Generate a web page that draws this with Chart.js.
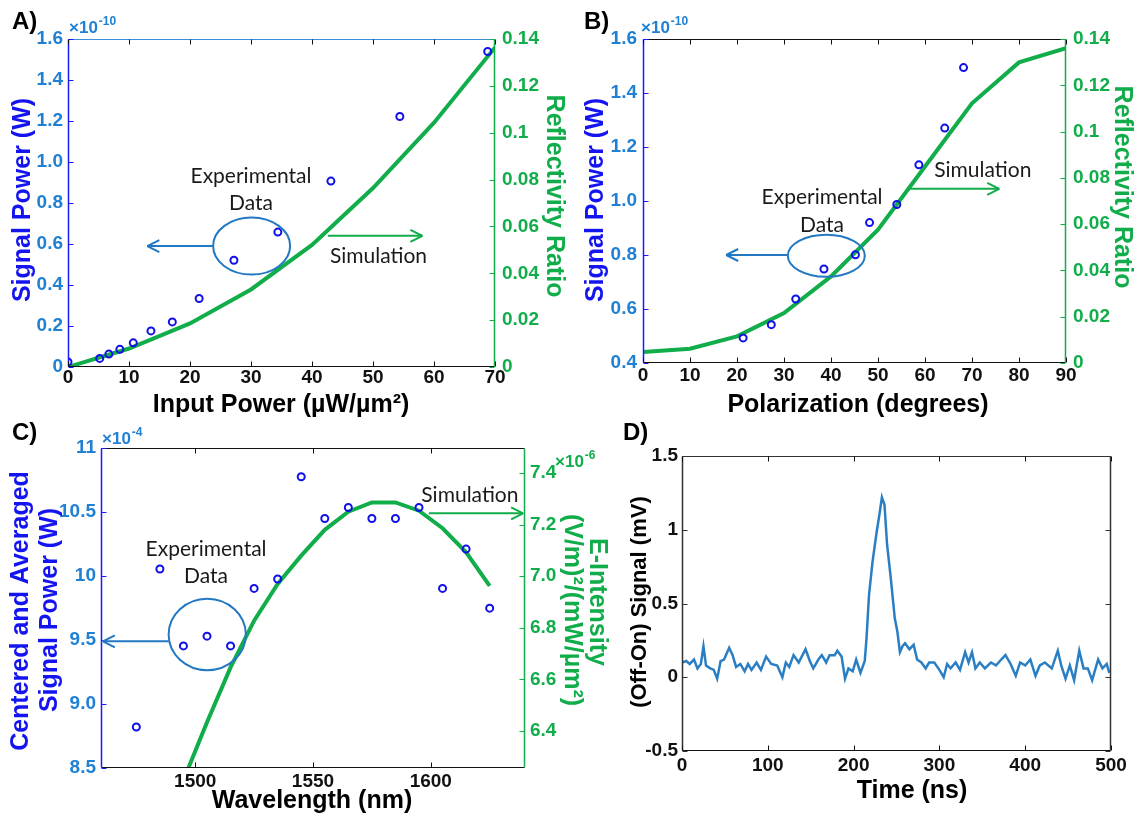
<!DOCTYPE html>
<html>
<head>
<meta charset="utf-8">
<style>
  body { margin: 0; background: #ffffff; width: 1134px; height: 814px; position: relative; overflow: hidden; }
  canvas { position: absolute; }
</style>
<script src="https://cdn.jsdelivr.net/npm/chart.js"></script>
</head>
<body>
<canvas id="chartA" width="567" height="420" style="left:0px;top:0px"></canvas>
<canvas id="chartB" width="567" height="420" style="left:567px;top:0px"></canvas>
<canvas id="chartC" width="620" height="399" style="left:0px;top:415px"></canvas>
<canvas id="chartD" width="522" height="399" style="left:612px;top:415px"></canvas>
<script>
// ---- panel A: input power sweep ----
const aExpPower  = [0, 5.2, 6.7, 8.5, 10.7, 13.6, 17.1, 21.5, 27.2, 34.4, 43.1, 54.4, 68.8];
const aExpSignal = [0.025, 0.042, 0.063, 0.086, 0.118, 0.176, 0.22, 0.334, 0.521, 0.658, 0.907, 1.222, 1.539]; // x1e-10 W
const aSimPower  = [0, 10, 20, 30, 40, 50, 60, 70];
const aSimRefl   = [0, 0.0079, 0.0186, 0.0331, 0.0521, 0.0764, 0.1043, 0.1364];
const aXTicks    = [0, 10, 20, 30, 40, 50, 60, 70];
const aLeftTicks = [0, 0.2, 0.4, 0.6, 0.8, 1.0, 1.2, 1.4, 1.6];
const reflTicks  = [0, 0.02, 0.04, 0.06, 0.08, 0.1, 0.12, 0.14];

// ---- panel B: polarization sweep ----
const bExpAngle  = [21.3, 27.3, 32.5, 38.5, 45.2, 48.2, 54.0, 58.7, 64.2, 68.2];
const bExpSignal = [0.493, 0.542, 0.637, 0.748, 0.801, 0.920, 0.987, 1.134, 1.270, 1.494]; // x1e-10 W
const bSimAngle  = [0, 10, 20, 30, 40, 50, 60, 70, 80, 90];
const bSimRefl   = [0.0048, 0.0062, 0.0115, 0.0216, 0.0374, 0.0576, 0.0849, 0.1122, 0.1299, 0.136];
const bXTicks    = [0, 10, 20, 30, 40, 50, 60, 70, 80, 90];
const bLeftTicks = [0.4, 0.6, 0.8, 1.0, 1.2, 1.4, 1.6];

// ---- panel C: wavelength sweep ----
const cExpWl     = [1475, 1485, 1495, 1505, 1515, 1525, 1535, 1545, 1555, 1565, 1575, 1585, 1595, 1605, 1615, 1625];
const cExpSignal = [8.82, 10.055, 9.454, 9.53, 9.454, 9.903, 9.977, 10.775, 10.449, 10.535, 10.449, 10.449, 10.535, 9.903, 10.21, 9.749]; // x1e-4 W
const cSimWl     = [1495, 1505, 1515, 1525, 1535, 1545, 1555, 1565, 1575, 1585, 1595, 1605, 1615, 1625];
const cSimE      = [6.21, 6.434, 6.647, 6.828, 6.970, 7.080, 7.180, 7.250, 7.286, 7.286, 7.254, 7.186, 7.093, 6.963]; // x1e-6
const cXTicks    = [1500, 1550, 1600];
const cLeftTicks = [8.5, 9.0, 9.5, 10, 10.5, 11];
const cRightTicks = [6.4, 6.6, 6.8, 7.0, 7.2, 7.4];

// ---- panel D: time trace ----
const dTime = [0, 5, 9, 14, 18, 22, 25, 28, 33, 37, 41, 45, 49, 55, 59, 63, 68, 73, 77, 81,
  87, 92, 98, 104, 111, 117, 121, 125, 130, 136, 144, 149, 153, 159, 163, 168, 172, 178, 181, 186,
  190, 194, 199, 203, 208, 213, 215, 218, 222, 227, 230, 233, 236, 239, 243, 248, 251, 254, 257, 260,
  265, 270, 274, 279, 284, 288, 294, 300, 305, 309, 313, 319, 324, 330, 334, 338, 342, 347, 353, 360,
  366, 372, 377, 383, 389, 394, 400, 406, 412, 417, 423, 431, 438, 442, 447, 452, 457, 463, 468, 473,
  478, 482, 485, 490, 495, 498];
const dSignal = [0.10, 0.11, 0.09, 0.12, 0.06, 0.09, 0.21, 0.08, 0.06, 0.05, -0.01, 0.11, 0.12, 0.20, 0.15, 0.07, 0.09, 0.04, 0.09, 0.05,
  0.10, 0.05, 0.14, 0.09, 0.08, 0.00, 0.10, 0.07, 0.15, 0.10, 0.19, 0.11, 0.06, 0.12, 0.15, 0.10, 0.15, 0.15, 0.18, 0.14,
  -0.01, 0.06, 0.04, 0.12, 0.03, 0.11, 0.26, 0.56, 0.78, 0.99, 1.10, 1.22, 1.17, 0.90, 0.69, 0.40, 0.31, 0.17, 0.21, 0.23,
  0.19, 0.22, 0.12, 0.10, 0.06, 0.10, 0.10, 0.05, 0.00, 0.09, 0.06, 0.10, 0.05, 0.17, 0.10, 0.17, 0.06, 0.10, 0.06, 0.10,
  0.08, 0.12, 0.15, 0.09, 0.01, 0.10, 0.08, 0.12, 0.01, 0.08, 0.10, 0.06, 0.18, 0.08, -0.01, 0.08, -0.02, 0.18, 0.06, 0.06,
  -0.02, 0.06, 0.12, 0.06, 0.09, 0.03];
const dXTicks = [0, 100, 200, 300, 400, 500];
const dYTicks = [-0.5, 0, 0.5, 1, 1.5];

// colours
const BLUE_TICK = '#1f80d4';
const BLUE_TITLE = '#1414f0';
const BLUE_AXIS = '#1a1aff';
const BLUE_MARK = '#1010e8';
const BLUE_NOTE = '#2278c3';
const GREEN = '#10ad4a';
const BLACK = '#111111';
const FONT = 'Liberation Sans, Arial, sans-serif';
const NOTE_FONT = '21px Lato, "Open Sans", sans-serif';
const TITLE_FONT = 'bold 25px ' + FONT;

const pairs = (xs, ys) => xs.map((x, i) => ({ x: x, y: ys[i] }));
const tickFont = { family: FONT, size: 19, weight: 'bold' };

function setTicks(arr) {
  return s => { s.ticks = arr.map(v => ({ value: v })); };
}

// axis boxes get a fixed size so every plot area lands where the figure has it
function xAxis(min, max, ticks, size, pad) {
  return {
    type: 'linear', position: 'bottom', min: min, max: max,
    afterBuildTicks: setTicks(ticks),
    afterFit: s => { s.height = size; s.paddingLeft = 0; s.paddingRight = 0; },
    grid: { display: false, drawTicks: false }, border: { display: false },
    ticks: { color: BLACK, font: tickFont, padding: pad, autoSkip: false, maxRotation: 0, callback: v => String(v) }
  };
}
function yAxis(pos, min, max, ticks, color, fmt, size, pad) {
  return {
    type: 'linear', position: pos, min: min, max: max,
    afterBuildTicks: setTicks(ticks),
    afterFit: s => { s.width = size; s.paddingTop = 0; s.paddingBottom = 0; },
    grid: { display: false, drawTicks: false }, border: { display: false },
    ticks: { color: color, font: tickFont, padding: pad, autoSkip: false, callback: fmt }
  };
}

// small drawing helpers
function seg(ctx, x1, y1, x2, y2, color, w) {
  ctx.strokeStyle = color; ctx.lineWidth = w || 1;
  ctx.beginPath(); ctx.moveTo(x1, y1); ctx.lineTo(x2, y2); ctx.stroke();
}
function label(ctx, s, x, y, font, color, rot, align) {
  ctx.save();
  ctx.translate(x, y);
  if (rot) ctx.rotate(rot);
  ctx.font = font; ctx.fillStyle = color;
  ctx.textAlign = align || 'center'; ctx.textBaseline = 'middle';
  ctx.fillText(s, 0, 0);
  ctx.restore();
}
function sci(ctx, x, y, exp, color) {
  ctx.save();
  ctx.fillStyle = color; ctx.textBaseline = 'middle'; ctx.textAlign = 'left';
  ctx.font = 'bold 17px ' + FONT;
  ctx.fillText('\u00d710', x, y);
  const w = ctx.measureText('\u00d710').width;
  ctx.font = 'bold 12px ' + FONT;
  ctx.fillText(exp, x + w + 1, y - 6);
  ctx.restore();
}
function arrow(ctx, x1, x2, y, color) {
  const d = Math.sign(x2 - x1);
  seg(ctx, x1, y, x2, y, color, 2);
  seg(ctx, x2, y, x2 - d * 12, y - 6, color, 2);
  seg(ctx, x2, y, x2 - d * 12, y + 6, color, 2);
}

// frame, inward ticks, titles and notes for one panel
function panelPlugin(p) {
  return {
    id: 'panel' + p.name,
    afterDraw(chart) {
      const ctx = chart.ctx, a = chart.chartArea;
      const sx = chart.scales.x, yl = chart.scales.y, yr = chart.scales.y2;
      const L = a.left + 0.5, R = a.right - 0.5, T = a.top + 0.5, B = a.bottom - 0.5;
      ctx.save();
      seg(ctx, L, B, R, B, BLACK, 1);
      seg(ctx, L, T, R, T, p.topColor, 1);
      seg(ctx, L, T, L, B, p.leftColor, 1.5);
      seg(ctx, R, T, R, B, p.rightColor, 1.5);
      sx.ticks.forEach(t => {
        const px = Math.round(sx.getPixelForValue(t.value)) + 0.5;
        seg(ctx, px, B, px, B - 5, BLACK, 1);
        seg(ctx, px, T, px, T + 5, BLACK, 1);
      });
      yl.ticks.forEach(t => {
        const py = Math.round(yl.getPixelForValue(t.value)) + 0.5;
        seg(ctx, L, py, L + 5, py, p.leftColor, 1);
        if (!yr) seg(ctx, R, py, R - 5, py, p.rightColor, 1);
      });
      if (yr) yr.ticks.forEach(t => {
        const py = Math.round(yr.getPixelForValue(t.value)) + 0.5;
        seg(ctx, R, py, R - 5, py, p.rightColor, 1);
      });
      // notes placed in data units
      (p.ellipses || []).forEach(e => {
        ctx.strokeStyle = BLUE_NOTE; ctx.lineWidth = 2;
        ctx.beginPath();
        ctx.ellipse(sx.getPixelForValue(e.x), yl.getPixelForValue(e.y), e.rx, e.ry, 0, 0, Math.PI * 2);
        ctx.stroke();
      });
      (p.arrows || []).forEach(r => {
        arrow(ctx, sx.getPixelForValue(r.x1), sx.getPixelForValue(r.x2), yl.getPixelForValue(r.y), r.color);
      });
      (p.notes || []).forEach(n => {
        label(ctx, n.text, sx.getPixelForValue(n.x), yl.getPixelForValue(n.y), NOTE_FONT, '#1a1a1a');
      });
      // titles placed in page pixels
      (p.titles || []).forEach(t => {
        label(ctx, t.text, t.x - p.ox, t.y - p.oy, t.font || TITLE_FONT, t.color, t.rot || 0, t.align);
      });
      (p.sci || []).forEach(s => sci(ctx, s.x - p.ox, s.y - p.oy, s.exp, s.color));
      ctx.restore();
    }
  };
}

const fmtRefl = v => v === 0 ? '0' : String(Number(v.toFixed(2)));
const baseOpts = {
  responsive: false, animation: false, devicePixelRatio: 1,
  plugins: { legend: { display: false }, tooltip: { enabled: false } }
};
const HALF = Math.PI / 2;

// ---------- A ----------
new Chart(document.getElementById('chartA'), {
  type: 'scatter',
  data: { datasets: [
    { data: pairs(aExpPower, aExpSignal), yAxisID: 'y', pointRadius: 3.5, pointBorderWidth: 2,
      pointBorderColor: BLUE_MARK, pointBackgroundColor: 'rgba(0,0,0,0)', showLine: false },
    { data: pairs(aSimPower, aSimRefl), yAxisID: 'y2', showLine: true, borderColor: GREEN,
      borderWidth: 4, pointRadius: 0, tension: 0 }
  ] },
  options: Object.assign({}, baseOpts, {
    layout: { padding: { left: 0, right: 0, top: 39, bottom: 0 } },
    scales: {
      x: xAxis(0, 70, aXTicks, 53, -1),
      y: yAxis('left', 0, 1.6, aLeftTicks, BLUE_TICK, v => v === 0 ? '0' : v.toFixed(1), 68, 5),
      y2: yAxis('right', 0, 0.14, reflTicks, GREEN, fmtRefl, 72, 7)
    }
  }),
  plugins: [panelPlugin({
    name: 'A', ox: 0, oy: 0, topColor: '#3a90dc', leftColor: BLUE_AXIS, rightColor: GREEN,
    ellipses: [{ x: 30.1, y: 0.59, rx: 38.5, ry: 28.5 }],
    arrows: [{ x1: 23.8, x2: 13.0, y: 0.59, color: BLUE_NOTE }, { x1: 42.6, x2: 58.1, y: 0.64, color: GREEN }],
    notes: [{ text: 'Experimental', x: 30.0, y: 0.93 }, { text: 'Data', x: 30.0, y: 0.80 }, { text: 'Simulation', x: 50.9, y: 0.54 }],
    titles: [
      { text: 'A)', x: 12, y: 22, color: '#000', font: 'bold 24px ' + FONT, align: 'left' },
      { text: 'Signal Power (W)', x: 23, y: 200, color: BLUE_TITLE, rot: -HALF },
      { text: 'Reflectivity Ratio', x: 554, y: 196, color: GREEN, rot: HALF },
      { text: 'Input Power (\u00b5W/\u00b5m\u00b2)', x: 281, y: 405, color: '#000' }
    ],
    sci: [{ x: 69, y: 28, exp: '-10', color: BLUE_TICK }]
  })]
});

// ---------- B ----------
new Chart(document.getElementById('chartB'), {
  type: 'scatter',
  data: { datasets: [
    { data: pairs(bExpAngle, bExpSignal), yAxisID: 'y', pointRadius: 3.5, pointBorderWidth: 2,
      pointBorderColor: BLUE_MARK, pointBackgroundColor: 'rgba(0,0,0,0)', showLine: false },
    { data: pairs(bSimAngle, bSimRefl), yAxisID: 'y2', showLine: true, borderColor: GREEN,
      borderWidth: 4, pointRadius: 0, tension: 0 }
  ] },
  options: Object.assign({}, baseOpts, {
    layout: { padding: { left: 0, right: 0, top: 39, bottom: 0 } },
    scales: {
      x: xAxis(0, 90, bXTicks, 57, 1),
      y: yAxis('left', 0.4, 1.6, bLeftTicks, BLUE_TICK, v => v.toFixed(1), 76, 6),
      y2: yAxis('right', 0, 0.14, reflTicks, GREEN, fmtRefl, 68, 7)
    }
  }),
  plugins: [panelPlugin({
    name: 'B', ox: 567, oy: 0, topColor: BLACK, leftColor: BLUE_AXIS, rightColor: GREEN,
    ellipses: [{ x: 39.0, y: 0.797, rx: 38.5, ry: 21 }],
    arrows: [{ x1: 30.8, x2: 17.7, y: 0.80, color: BLUE_NOTE }, { x1: 56.2, x2: 75.8, y: 1.045, color: GREEN }],
    notes: [{ text: 'Experimental', x: 38.1, y: 1.013 }, { text: 'Data', x: 38.1, y: 0.912 }, { text: 'Simulation', x: 72.3, y: 1.115 }],
    titles: [
      { text: 'B)', x: 584, y: 22, color: '#000', font: 'bold 24px ' + FONT, align: 'left' },
      { text: 'Signal Power (W)', x: 596, y: 200, color: BLUE_TITLE, rot: -HALF },
      { text: 'Reflectivity Ratio', x: 1122, y: 187, color: GREEN, rot: HALF },
      { text: 'Polarization (degrees)', x: 858, y: 405, color: '#000' }
    ],
    sci: [{ x: 641, y: 28, exp: '-10', color: BLUE_TICK }]
  })]
});

// ---------- C ----------
new Chart(document.getElementById('chartC'), {
  type: 'scatter',
  data: { datasets: [
    { data: pairs(cExpWl, cExpSignal), yAxisID: 'y', pointRadius: 3.5, pointBorderWidth: 2,
      pointBorderColor: BLUE_MARK, pointBackgroundColor: 'rgba(0,0,0,0)', showLine: false },
    { data: pairs(cSimWl, cSimE), yAxisID: 'y2', showLine: true, borderColor: GREEN,
      borderWidth: 4, pointRadius: 0, tension: 0 }
  ] },
  options: Object.assign({}, baseOpts, {
    layout: { padding: { left: 0, right: 0, top: 33, bottom: 0 } },
    scales: {
      x: xAxis(1460, 1640, cXTicks, 46, 2),
      y: yAxis('left', 8.5, 11, cLeftTicks, BLUE_TICK, v => (v >= 10 && Number.isInteger(v)) ? String(v) : v.toFixed(1), 101, 5),
      y2: yAxis('right', 6.257, 7.497, cRightTicks, GREEN, v => v.toFixed(1), 95, 5)
    }
  }),
  plugins: [panelPlugin({
    name: 'C', ox: 0, oy: 415, topColor: BLACK, leftColor: BLUE_AXIS, rightColor: GREEN,
    ellipses: [{ x: 1505.1, y: 9.543, rx: 38.6, ry: 35.7 }],
    arrows: [{ x1: 1488.7, x2: 1460.8, y: 9.49, color: BLUE_NOTE }, { x1: 1599.2, x2: 1639.2, y: 10.49, color: GREEN }],
    notes: [{ text: 'Experimental', x: 1504.6, y: 10.21 }, { text: 'Data', x: 1504.6, y: 9.995 }, { text: 'Simulation', x: 1616.6, y: 10.632 }],
    titles: [
      { text: 'C)', x: 12, y: 433, color: '#000', font: 'bold 24px ' + FONT, align: 'left' },
      { text: 'Centered and Averaged', x: 21, y: 611, color: BLUE_TITLE, rot: -HALF },
      { text: 'Signal Power (W)', x: 50, y: 610, color: BLUE_TITLE, rot: -HALF },
      { text: 'E-Intensity', x: 597, y: 602, color: GREEN, rot: HALF },
      { text: '(V/m)\u00b2/(mW/\u00b5m\u00b2)', x: 572, y: 610, color: GREEN, rot: HALF },
      { text: 'Wavelength (nm)', x: 312, y: 801, color: '#000' }
    ],
    sci: [{ x: 102, y: 439, exp: '-4', color: BLUE_TICK }, { x: 555, y: 462, exp: '-6', color: GREEN }]
  })]
});

// ---------- D ----------
new Chart(document.getElementById('chartD'), {
  type: 'scatter',
  data: { datasets: [
    { data: pairs(dTime, dSignal), showLine: true, borderColor: '#2a7fc4', borderWidth: 2.5,
      pointRadius: 0, tension: 0 }
  ] },
  options: Object.assign({}, baseOpts, {
    layout: { padding: { left: 0, right: 23, top: 41, bottom: 0 } },
    scales: {
      x: xAxis(0, 500, dXTicks, 63, 3),
      y: yAxis('left', -0.5, 1.5, dYTicks, BLACK, v => String(v), 70, 4)
    }
  }),
  plugins: [panelPlugin({
    name: 'D', ox: 612, oy: 415, topColor: '#333', leftColor: '#333', rightColor: '#333',
    titles: [
      { text: 'D)', x: 623, y: 433, color: '#000', font: 'bold 24px ' + FONT, align: 'left' },
      { text: '(Off-On) Signal (mV)', x: 640, y: 602, color: '#000', rot: -HALF, font: 'bold 22px ' + FONT },
      { text: 'Time (ns)', x: 912, y: 791, color: '#000' }
    ]
  })]
});
</script>
</body>
</html>
